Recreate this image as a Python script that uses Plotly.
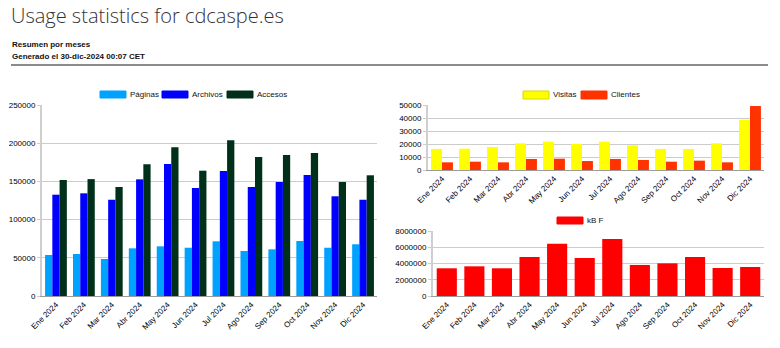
import plotly.graph_objects as go

meses = ["Ene 2024", "Feb 2024", "Mar 2024", "Abr 2024", "May 2024", "Jun 2024",
         "Jul 2024", "Ago 2024", "Sep 2024", "Oct 2024", "Nov 2024", "Dic 2024"]

paginas = [53700, 55000, 48400, 62400, 65000, 63200, 71600, 58900, 61100, 72000, 63200, 67700]
archivos = [132600, 134400, 126000, 152700, 172800, 141400, 163600, 142700, 149200, 158400, 130500, 126000]
accesos = [151800, 153000, 142700, 172400, 194600, 164000, 203800, 182000, 184600, 187200, 149200, 158000]

visitas = [16200, 16400, 17700, 20500, 21800, 20000, 21800, 19000, 16200, 16200, 20500, 38700]
clientes = [5900, 6400, 5900, 8500, 8700, 6900, 8500, 7700, 6400, 7200, 5900, 49200]

kbf = [3410000, 3650000, 3410000, 4800000, 6440000, 4680000, 7020000, 3820000, 4020000, 4800000, 3450000, 3570000]

C_PAG = "#00a2ff"
C_ARC = "#0000ff"
C_ACC = "#00301a"
C_VIS = "#ffff00"
C_CLI = "#ff3300"
C_KBF = "#ff0000"

W, H = 780, 348
def px(x):
    return x / W
def py(y):
    return 1 - y / H

fig = go.Figure()
fig.add_trace(go.Bar(x=meses, y=paginas, name="Páginas", marker=dict(color=C_PAG, line=dict(width=0)), xaxis="x", yaxis="y"))
fig.add_trace(go.Bar(x=meses, y=archivos, name="Archivos", marker=dict(color=C_ARC, line=dict(width=0)), xaxis="x", yaxis="y"))
fig.add_trace(go.Bar(x=meses, y=accesos, name="Accesos", marker=dict(color=C_ACC, line=dict(width=0)), xaxis="x", yaxis="y"))
fig.add_trace(go.Bar(x=meses, y=visitas, name="Visitas", marker=dict(color=C_VIS, line=dict(width=0)), xaxis="x2", yaxis="y2"))
fig.add_trace(go.Bar(x=meses, y=clientes, name="Clientes", marker=dict(color=C_CLI, line=dict(width=0)), xaxis="x2", yaxis="y2"))
fig.add_trace(go.Bar(x=meses, y=kbf, name="kB F", width=0.73, marker=dict(color=C_KBF, line=dict(width=0)), xaxis="x3", yaxis="y3"))

tickfont = dict(family="Liberation Sans, Arial, sans-serif", size=8, color="#000")

def xax(d0, d1, anchor):
    return dict(domain=[px(d0), px(d1)], anchor=anchor, type="category", tickangle=-45,
                tickfont=tickfont, showline=True, linecolor="#9a9a9a", linewidth=1,
                showgrid=False, ticks="", zeroline=False, fixedrange=True, automargin=False)

def yax(d0, d1, anchor, dtick, rng):
    return dict(domain=[py(d1), py(d0)], anchor=anchor, range=rng, dtick=dtick,
                tickfont=tickfont, showline=True, linecolor="#cfcfcf", linewidth=2,
                showgrid=True, gridcolor="#cccccc", gridwidth=1, zeroline=False,
                ticks="outside", ticklen=3, tickcolor="#cccccc", tickformat="d",
                fixedrange=True, automargin=False)

fig.update_layout(
    template="none",
    width=W, height=H,
    margin=dict(l=0, r=0, t=0, b=0, autoexpand=False),
    plot_bgcolor="white", paper_bgcolor="white",
    showlegend=False,
    barmode="group", bargap=0.22, bargroupgap=0,
    xaxis=xax(42, 377, "y"),
    yaxis=yax(105, 296, "x", 50000, [0, 250000]),
    xaxis2=xax(428, 764, "y2"),
    yaxis2=yax(105, 170, "x2", 10000, [0, 50000]),
    xaxis3=xax(433, 764, "y3"),
    yaxis3=yax(231, 296, "x3", 2000000, [0, 8000000]),
)

shapes = []
annotations = []

# separator line
shapes.append(dict(type="line", xref="paper", yref="paper", x0=px(11), x1=px(768), y0=py(65), y1=py(65),
                   line=dict(color="#8c8c8c", width=2)))

# title and subtitles
annotations.append(dict(text="Usage statistics for cdcaspe.es", xref="paper", yref="paper",
                        x=px(9), y=py(16), xanchor="left", yanchor="middle", showarrow=False,
                        font=dict(family="Open Sans, sans-serif", size=20, color="#333", weight=300)))
annotations.append(dict(text="<b>Resumen por meses</b>", xref="paper", yref="paper",
                        x=px(10), y=py(45), xanchor="left", yanchor="middle", showarrow=False,
                        font=dict(family="Liberation Sans, Arial, sans-serif", size=8, color="#111")))
annotations.append(dict(text="<b>Generado el 30-dic-2024 00:07 CET</b>", xref="paper", yref="paper",
                        x=px(10), y=py(56), xanchor="left", yanchor="middle", showarrow=False,
                        font=dict(family="Liberation Sans, Arial, sans-serif", size=8, color="#111")))

legfont = dict(family="Liberation Sans, Arial, sans-serif", size=8, color="#111")

def legend_item(x0, y0, y1, color, label, border=None):
    shapes.append(dict(type="rect", xref="paper", yref="paper",
                       x0=px(x0), x1=px(x0 + 26), y0=py(y1), y1=py(y0),
                       fillcolor=color, line=dict(color=border or color, width=1)))
    annotations.append(dict(text=label, xref="paper", yref="paper",
                            x=px(x0 + 28), y=py((y0 + y1) / 2), xanchor="left", yanchor="middle",
                            showarrow=False, font=legfont))

legend_item(100, 91, 98, C_PAG, "Páginas")
legend_item(162, 91, 98, C_ARC, "Archivos")
legend_item(227, 91, 98, C_ACC, "Accesos")
legend_item(523, 91, 99, C_VIS, "Visitas", border="#d8d800")
legend_item(581, 91, 99, C_CLI, "Clientes")
legend_item(557, 217, 224, C_KBF, "kB F")

fig.update_layout(shapes=shapes, annotations=annotations)

fig.write_html("out.html")
